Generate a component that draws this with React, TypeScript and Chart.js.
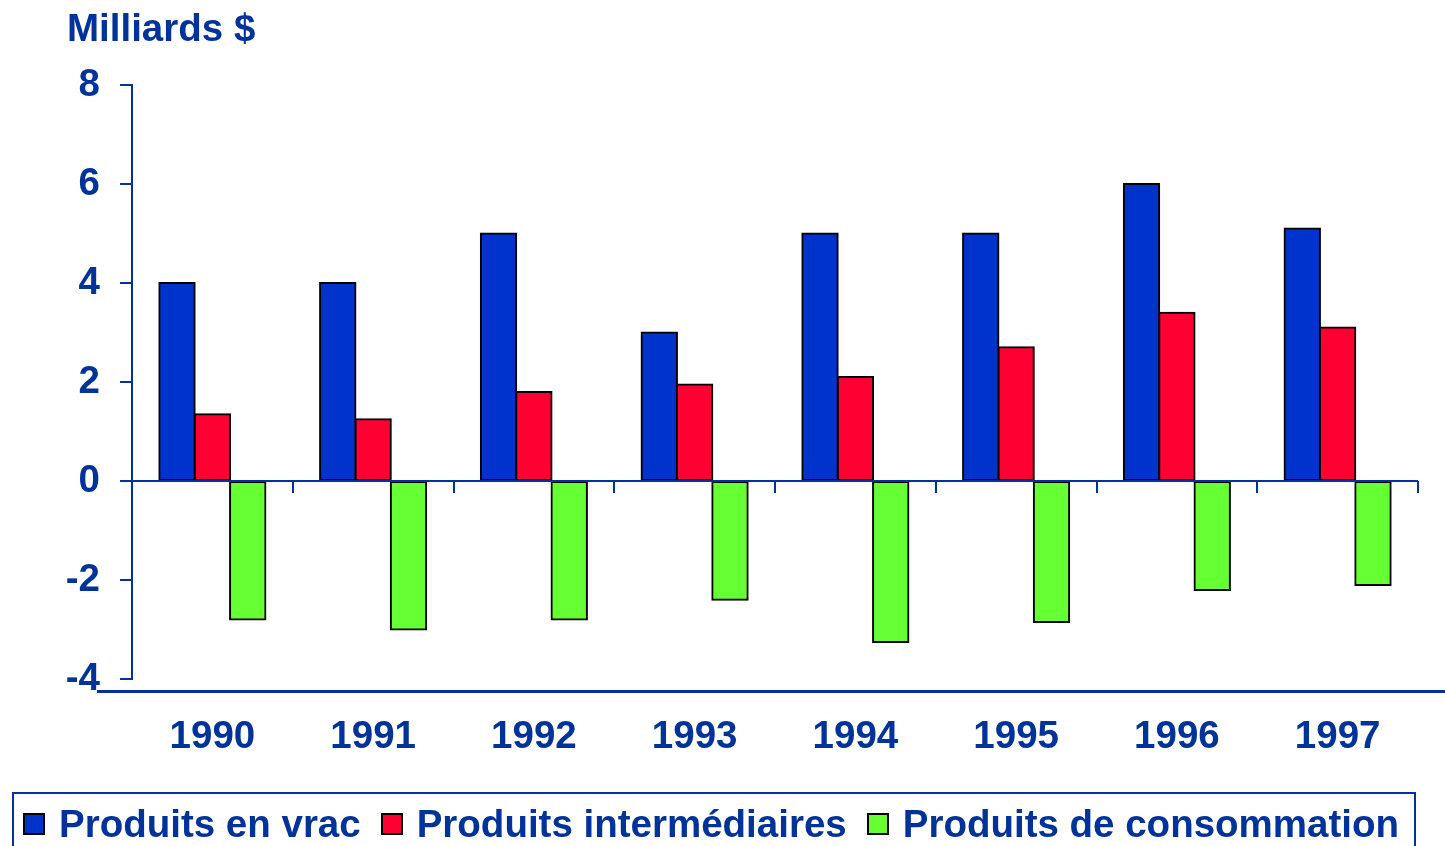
import React, { useEffect, useRef } from "react";
import { Chart, registerables } from "chart.js";

Chart.register(...registerables);

// ---- Data ----
const categories = ["1990", "1991", "1992", "1993", "1994", "1995", "1996", "1997"];
const vrac = [4.0, 4.0, 5.0, 3.0, 5.0, 5.0, 6.0, 5.1];
const intermediaires = [1.35, 1.25, 1.8, 1.95, 2.1, 2.7, 3.4, 3.1];
const consommation = [-2.8, -3.0, -2.8, -2.4, -3.25, -2.85, -2.2, -2.1];
const seriesNames = ["Produits en vrac", "Produits intermédiaires", "Produits de consommation"];
const seriesColors = ["#0033CC", "#FF0033", "#66FF33"];
const yMin = -4;
const yMax = 8;
const yStep = 2;
const yTitle = "Milliards $";

// ---- Styles ----
const TEXT = "#003399";
const AXIS = "#003399";
const FAMILY = "'Liberation Sans', Arial, Helvetica, sans-serif";
const FONT_SIZE = 38.5;

const decorPlugin = {
  id: "decor",
  afterDatasetsDraw(chart: any) {
    const { ctx, chartArea, scales } = chart;
    const y0 = scales.y.getPixelForValue(0);
    const n = categories.length;
    const w = (chartArea.right - chartArea.left) / n;
    ctx.save();
    ctx.strokeStyle = AXIS;
    ctx.lineWidth = 2;
    // zero line
    ctx.beginPath();
    ctx.moveTo(chartArea.left, y0);
    ctx.lineTo(chartArea.right, y0);
    ctx.stroke();
    // category boundary tick marks below the zero line
    ctx.beginPath();
    for (let i = 1; i <= n; i++) {
      const px = Math.round(chartArea.left + i * w);
      ctx.moveTo(px, y0);
      ctx.lineTo(px, y0 + 12);
    }
    ctx.stroke();
    // bottom rule
    ctx.lineWidth = 3;
    ctx.beginPath();
    ctx.moveTo(97, chartArea.bottom + 12.5);
    ctx.lineTo(chart.width, chartArea.bottom + 12.5);
    ctx.stroke();
    // title
    ctx.fillStyle = TEXT;
    ctx.font = `bold ${FONT_SIZE}px ${FAMILY}`;
    ctx.textAlign = "left";
    ctx.textBaseline = "alphabetic";
    ctx.fillText(yTitle, 67, 41);
    ctx.restore();
  },
};

export default function App() {
  const canvasRef = useRef<HTMLCanvasElement | null>(null);

  useEffect(() => {
    const canvas = canvasRef.current;
    if (!canvas) return;
    const seriesData = [vrac, intermediaires, consommation];
    const chart = new Chart(canvas, {
      type: "bar",
      data: {
        labels: categories,
        datasets: seriesData.map((d, i) => ({
          label: seriesNames[i],
          data: d,
          backgroundColor: seriesColors[i],
          borderColor: "#000000",
          borderWidth: 2,
          borderSkipped: false,
          inflateAmount: 1,
          categoryPercentage: 0.66,
          barPercentage: 1,
        })),
      },
      options: {
        animation: false,
        responsive: false,
        devicePixelRatio: 1,
        layout: { padding: { top: 85, right: 27, bottom: 77, left: 0 } },
        plugins: {
          legend: { display: false },
          tooltip: { enabled: false },
          title: { display: false },
        },
        scales: {
          x: {
            offset: true,
            grid: { display: false, drawTicks: false },
            border: { display: false },
            ticks: {
              color: TEXT,
              font: { family: FAMILY, size: FONT_SIZE, weight: "bold" },
              padding: 35,
              maxRotation: 0,
              autoSkip: false,
            },
            afterFit: (s: any) => {
              s.height = 90;
              s.paddingLeft = 0;
              s.paddingRight = 0;
            },
          },
          y: {
            min: yMin,
            max: yMax,
            ticks: {
              stepSize: yStep,
              color: TEXT,
              font: { family: FAMILY, size: FONT_SIZE, weight: "bold" },
              padding: 20,
            },
            grid: {
              drawOnChartArea: false,
              drawTicks: true,
              tickLength: 12,
              tickColor: AXIS,
              color: AXIS,
              lineWidth: 2,
            },
            border: { display: true, color: AXIS, width: 2 },
            afterFit: (s: any) => {
              s.width = 132;
              s.paddingTop = 0;
              s.paddingBottom = 0;
            },
          },
        },
      },
      plugins: [decorPlugin],
    } as any);
    return () => chart.destroy();
  }, []);

  const legendTextStyle: React.CSSProperties = {
    fontFamily: FAMILY,
    fontWeight: "bold",
    fontSize: FONT_SIZE,
    lineHeight: "38px",
    color: TEXT,
    whiteSpace: "nowrap",
  };

  return (
    <div
      style={{
        position: "fixed",
        left: 0,
        top: 0,
        width: 1445,
        height: 846,
        overflow: "hidden",
        background: "#ffffff",
      }}
    >
      <canvas ref={canvasRef} width={1445} height={846} style={{ display: "block", width: 1445, height: 846 }} />
      <div
        style={{
          position: "absolute",
          left: 12,
          top: 792,
          width: 1404,
          height: 80,
          boxSizing: "border-box",
          border: `2px solid ${AXIS}`,
          paddingLeft: 9,
          paddingTop: 11,
          display: "flex",
          alignItems: "flex-start",
        }}
      >
        {seriesNames.map((name, i) => (
          <div key={name} style={{ display: "flex", alignItems: "center", height: 38, marginRight: 20 }}>
            <div
              style={{
                width: 22,
                height: 22,
                boxSizing: "border-box",
                border: "2px solid #000000",
                background: seriesColors[i],
                marginRight: 14,
                flexShrink: 0,
              }}
            />
            <span style={legendTextStyle}>{name}</span>
          </div>
        ))}
      </div>
    </div>
  );
}
